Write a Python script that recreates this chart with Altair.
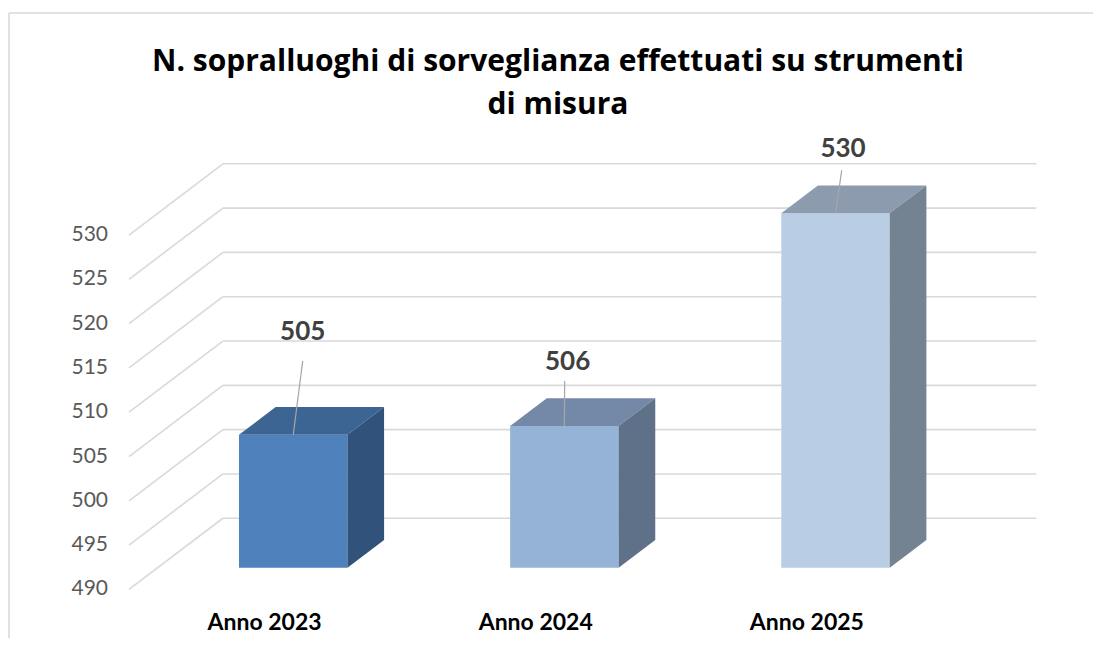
import altair as alt
import pandas as pd

# ---------------- data ----------------
categories = ["Anno 2023", "Anno 2024", "Anno 2025"]
values = [505, 506, 530]
value_labels = ["505", "506", "530"]
y_ticks = [490, 495, 500, 505, 510, 515, 520, 525, 530]
title_text = "N. sopralluoghi di sorveglianza effettuati su strumenti\ndi misura"

# ---------------- styles ----------------
front_colors = ["#4F81BD", "#95B3D7", "#B9CDE5"]
top_colors = ["#3D6593", "#7489A7", "#8C9BAE"]
side_colors = ["#31527B", "#5F7089", "#748391"]
GRID = "#D9D9D9"
FONT = "Lato"
TITLE_FONT = "Open Sans"

W, H = 1085, 630
X_DOM = [-1.0519, 2.9496]
Y_DOM = [482.07, 553.17]
PX_X = W / (X_DOM[1] - X_DOM[0])
PX_Y = H / (Y_DOM[1] - Y_DOM[0])

BASE = 490
HALF = 0.2
DX_FULL = 93 / PX_X      # horizontal shift of full depth (category units)
DY_FULL = 70.5 / PX_Y    # vertical shift of full depth (value units)
D_FRONT, D_BAR, D_BACK = -0.308, 0.394, 0.702
WALL_L, WALL_R = -0.5, 2.5

# label / leader offsets in pixels (dx, dy) relative to bar top-front centre
label_off = [(9.5, -103), (3.3, -64), (7.5, -64)]
leader_off = [(9.5, -74), (0.3, -45), (6.2, -43)]


def proj(x, v, d):
    return x + d * DX_FULL, v + d * DY_FULL


xsc = alt.Scale(domain=X_DOM, nice=False, zero=False)
ysc = alt.Scale(domain=Y_DOM, nice=False, zero=False)


def X(f="x"):
    return alt.X(f + ":Q", scale=xsc, axis=None)


def Y(f="y"):
    return alt.Y(f + ":Q", scale=ysc, axis=None, stack=None)


# gridlines (side wall diagonals + back wall horizontals)
grid_rows = []
for t in y_ticks:
    xa, ya = proj(WALL_L, t, D_FRONT)
    xb, yb = proj(WALL_L, t, D_BACK)
    xc, yc = proj(WALL_R, t, D_BACK)
    grid_rows.append({"x": xa, "y": ya, "x2": xb, "y2": yb})
    grid_rows.append({"x": xb, "y": yb, "x2": xc, "y2": yc})
grid = alt.Chart(pd.DataFrame(grid_rows)).mark_rule(color=GRID, strokeWidth=1.6).encode(
    x=X(), y=Y(), x2="x2:Q", y2="y2:Q")

# bars
front_rows, top_rows, side_rows = [], [], []
bdx, bdy = D_BAR * DX_FULL, D_BAR * DY_FULL
for i, (c, v) in enumerate(zip(categories, values)):
    x0, x1 = i - HALF, i + HALF
    front_rows.append({"cat": c, "x": x0, "x2": x1, "y": BASE, "y2": v, "c": front_colors[i]})
    for xx, yt, yb in [(x0, v, v), (x0 + bdx, v + bdy, v), (x1, v + bdy, v), (x1 + bdx, v + bdy, v + bdy)]:
        top_rows.append({"cat": c, "x": xx, "y": yt, "y2": yb, "c": top_colors[i]})
    for xx, yt, yb in [(x1, v, BASE), (x1 + bdx, v + bdy, BASE + bdy)]:
        side_rows.append({"cat": c, "x": xx, "y": yt, "y2": yb, "c": side_colors[i]})

front = alt.Chart(pd.DataFrame(front_rows)).mark_rect().encode(
    x=X(), x2="x2:Q", y=Y(), y2="y2:Q", color=alt.Color("c:N", scale=None))
top = alt.Chart(pd.DataFrame(top_rows)).mark_area(orient="vertical", interpolate="linear").encode(
    x=X(), y=Y(), y2="y2:Q", detail="cat:N", color=alt.Color("c:N", scale=None))
side = alt.Chart(pd.DataFrame(side_rows)).mark_area(orient="vertical", interpolate="linear").encode(
    x=X(), y=Y(), y2="y2:Q", detail="cat:N", color=alt.Color("c:N", scale=None))

# data labels + leader lines
lab_rows, lead_rows = [], []
for i, (v, t) in enumerate(zip(values, value_labels)):
    lab_rows.append({"x": i + label_off[i][0] / PX_X, "y": v - label_off[i][1] / PX_Y, "t": t})
    lead_rows.append({"x": i, "y": v, "x2": i + leader_off[i][0] / PX_X, "y2": v - leader_off[i][1] / PX_Y})
labels = alt.Chart(pd.DataFrame(lab_rows)).mark_text(
    font=FONT, fontSize=26, fontWeight="bold", color="#404040", baseline="middle", align="center"
).encode(x=X(), y=Y(), text="t:N")
leaders = alt.Chart(pd.DataFrame(lead_rows)).mark_rule(color="#A6A6A6", strokeWidth=1.2).encode(
    x=X(), y=Y(), x2="x2:Q", y2="y2:Q")

# y tick labels
ytl_rows = []
for t in y_ticks:
    xa, ya = proj(WALL_L, t, D_FRONT)
    ytl_rows.append({"x": xa, "y": ya, "t": str(t)})
ytl = alt.Chart(pd.DataFrame(ytl_rows)).mark_text(
    font=FONT, fontSize=21, color="#595959", align="right", baseline="middle", dx=-21
).encode(x=X(), y=Y(), text="t:N")

# x category labels
xtl_rows = []
for i, c in enumerate(categories):
    xa, ya = proj(i, BASE, D_FRONT)
    xtl_rows.append({"x": xa, "y": ya, "t": c})
xtl = alt.Chart(pd.DataFrame(xtl_rows)).mark_text(
    font=FONT, fontSize=23, fontWeight="bold", color="#000000", align="center", baseline="alphabetic", dy=41
).encode(x=X(), y=Y(), text="t:N")

# title
title = alt.Chart(pd.DataFrame({"t": [title_text]})).mark_text(
    font=TITLE_FONT, fontSize=30, fontWeight="bold", color="#000000", align="center",
    baseline="alphabetic", lineBreak="\n", lineHeight=43
).encode(x=alt.value(550), y=alt.value(63), text="t:N")

# chart border (top and left edges)
border_df = pd.DataFrame({"k": [0]})
border_top = alt.Chart(border_df).mark_rule(color=GRID, strokeWidth=1.6).encode(
    x=alt.value(1), x2=alt.value(W), y=alt.value(5))
border_left = alt.Chart(border_df).mark_rule(color=GRID, strokeWidth=1.6).encode(
    x=alt.value(1), y=alt.value(5), y2=alt.value(H))

chart = alt.layer(
    border_top, border_left, grid, front, top, side, leaders, labels, ytl, xtl, title
).properties(
    width=W, height=H, autosize=alt.AutoSizeParams(type="none"), padding=0, background="white"
).configure_view(stroke=None)

chart.save("out.html", embed_options={"renderer": "svg", "actions": False})
